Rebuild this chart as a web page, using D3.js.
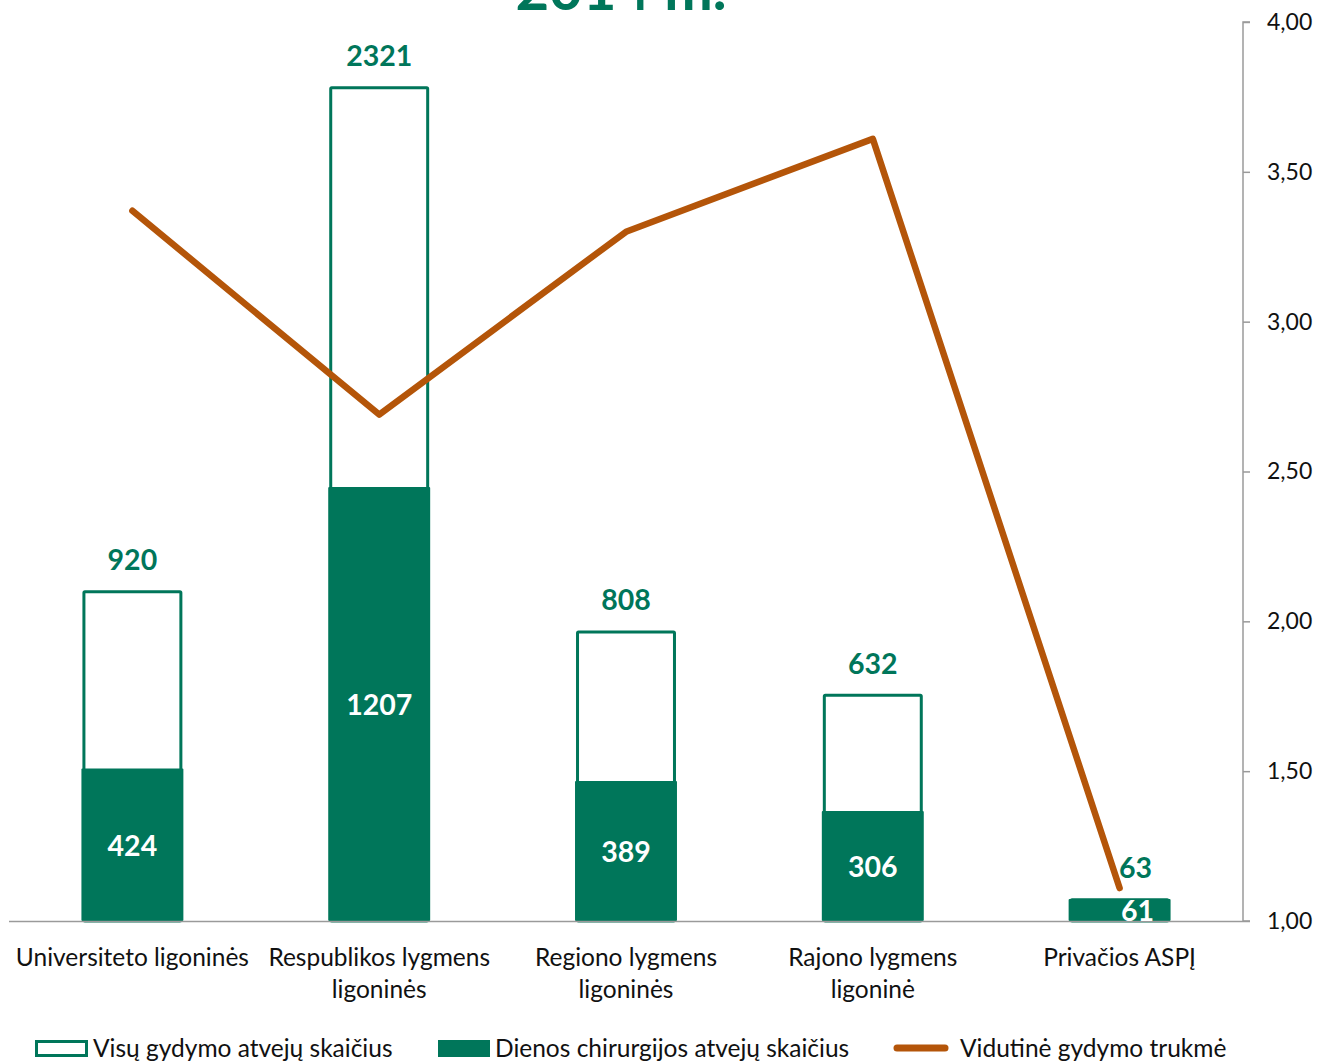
<!DOCTYPE html>
<html lang="lt">
<head>
<meta charset="utf-8">
<script src="https://cdn.jsdelivr.net/npm/d3@7"></script>
<style>
  html, body { margin: 0; padding: 0; background: #fff; }
  svg { display: block; font-family: Lato, "Open Sans", sans-serif; }
</style>
</head>
<body>
<svg id="chart" width="1319" height="1061"></svg>
<script>
// Hospital categories (label lines)
const categories = [
  ["Universiteto ligoninės"],
  ["Respublikos lygmens", "ligoninės"],
  ["Regiono lygmens", "ligoninės"],
  ["Rajono lygmens", "ligoninė"],
  ["Privačios ASPĮ"]
];
// All treatment cases
const totalCases = [920, 2321, 808, 632, 63];
// Day surgery cases
const daySurgeryCases = [424, 1207, 389, 306, 61];
// Average length of treatment (right axis)
const avgDuration = [3.37, 2.69, 3.30, 3.61, 1.11];
const rightTicks = [1.00, 1.50, 2.00, 2.50, 3.00, 3.50, 4.00];
const legendLabels = ["Visų gydymo atvejų skaičius", "Dienos chirurgijos atvejų skaičius", "Vidutinė gydymo trukmė"];
const title = "2014 m.";

const GREEN = "#00765a";
const ORANGE = "#b45509";
const AXIS = "#9a9a9a";

const svg = d3.select("#chart");
const plotLeft = 9, plotRight = 1243, plotTop = 22, plotBottom = 921;

const x = d3.scaleBand()
  .domain(d3.range(categories.length))
  .range([plotLeft, plotRight])
  .paddingInner(0.595)
  .paddingOuter(0.2975);
const yBars = d3.scaleLinear().domain([0, 2500]).range([plotBottom, plotTop]);
const yLine = d3.scaleLinear().domain([1, 4]).range([plotBottom, plotTop]);
const cx = i => x(i) + x.bandwidth() / 2;

// Title (runs over the top edge of the page)
svg.append("text")
  .attr("x", 621).attr("y", 10)
  .attr("text-anchor", "middle")
  .attr("font-size", 58).attr("font-weight", 700)
  .attr("fill", GREEN)
  .text(title);

// Outlined total bars
svg.append("g").selectAll("rect")
  .data(totalCases)
  .join("rect")
  .attr("x", (d, i) => x(i) + 1.5)
  .attr("y", d => yBars(d) + 1.5)
  .attr("width", x.bandwidth() - 3)
  .attr("height", d => plotBottom - yBars(d) - 1.5)
  .attr("fill", "#fff")
  .attr("stroke", GREEN)
  .attr("stroke-width", 3)
  .attr("rx", 1);

// Filled day-surgery bars
svg.append("g").selectAll("rect")
  .data(daySurgeryCases)
  .join("rect")
  .attr("x", (d, i) => x(i) - 1)
  .attr("y", d => yBars(d))
  .attr("width", x.bandwidth() + 2)
  .attr("height", d => plotBottom - yBars(d))
  .attr("fill", GREEN)
  .attr("rx", 1);

// Baseline
svg.append("line")
  .attr("x1", plotLeft).attr("x2", plotRight)
  .attr("y1", plotBottom + 0.5).attr("y2", plotBottom + 0.5)
  .attr("stroke", AXIS).attr("stroke-width", 1.5);

// Right axis
const rAxis = d3.axisRight(yLine)
  .tickValues(rightTicks)
  .tickSize(7)
  .tickPadding(17)
  .tickFormat(d => d3.format(".2f")(d).replace(".", ","));
const ra = svg.append("g")
  .attr("transform", `translate(${plotRight},0)`)
  .call(rAxis);
ra.select(".domain").attr("stroke", AXIS).attr("stroke-width", 1.5).attr("d", `M7,${plotTop}H0V${plotBottom}H7`);
ra.selectAll(".tick line").attr("stroke", AXIS).attr("stroke-width", 1.5);
ra.selectAll(".tick text")
  .attr("font-family", "Lato, sans-serif")
  .attr("font-size", 23).attr("fill", "#111");

// Average duration line
svg.append("path")
  .datum(avgDuration)
  .attr("fill", "none")
  .attr("stroke", ORANGE)
  .attr("stroke-width", 6.5)
  .attr("stroke-linejoin", "round")
  .attr("stroke-linecap", "round")
  .attr("d", d3.line().x((d, i) => cx(i)).y(d => yLine(d)));

// Value labels: totals above bars
const last = categories.length - 1;
svg.append("g").selectAll("text")
  .data(totalCases)
  .join("text")
  .attr("x", (d, i) => i === last ? cx(i) + 16 : cx(i))
  .attr("y", d => yBars(d) - 20)
  .attr("text-anchor", "middle")
  .attr("font-size", 28.5).attr("font-weight", 700)
  .attr("fill", GREEN)
  .text(d => d);

// Value labels: day surgery inside bars
svg.append("g").selectAll("text")
  .data(daySurgeryCases)
  .join("text")
  .attr("x", (d, i) => i === last ? cx(i) + 18 : cx(i))
  .attr("y", d => (yBars(d) + plotBottom) / 2 + 11)
  .attr("text-anchor", "middle")
  .attr("font-size", 28.5).attr("font-weight", 700)
  .attr("fill", "#fff")
  .text(d => d);

// Category labels
const cat = svg.append("g").selectAll("text")
  .data(categories)
  .join("text")
  .attr("text-anchor", "middle")
  .attr("font-size", 24.5)
  .attr("fill", "#111");
cat.each(function (lines, i) {
  d3.select(this).selectAll("tspan")
    .data(lines)
    .join("tspan")
    .attr("x", cx(i))
    .attr("y", (l, j) => 966 + j * 32)
    .text(l => l);
});

// Legend
const lg = svg.append("g").attr("font-size", 24.5).attr("fill", "#111");
lg.append("rect").attr("x", 36.5).attr("y", 1041.5).attr("width", 50).attr("height", 14)
  .attr("fill", "#fff").attr("stroke", GREEN).attr("stroke-width", 3);
lg.append("text").attr("x", 93).attr("y", 1057).text(legendLabels[0]);
lg.append("rect").attr("x", 438).attr("y", 1040).attr("width", 52).attr("height", 17).attr("fill", GREEN);
lg.append("text").attr("x", 495).attr("y", 1057).text(legendLabels[1]);
lg.append("line").attr("x1", 897).attr("x2", 945).attr("y1", 1048).attr("y2", 1048)
  .attr("stroke", ORANGE).attr("stroke-width", 7).attr("stroke-linecap", "round");
lg.append("text").attr("x", 960).attr("y", 1057).text(legendLabels[2]);
</script>
</body>
</html>
